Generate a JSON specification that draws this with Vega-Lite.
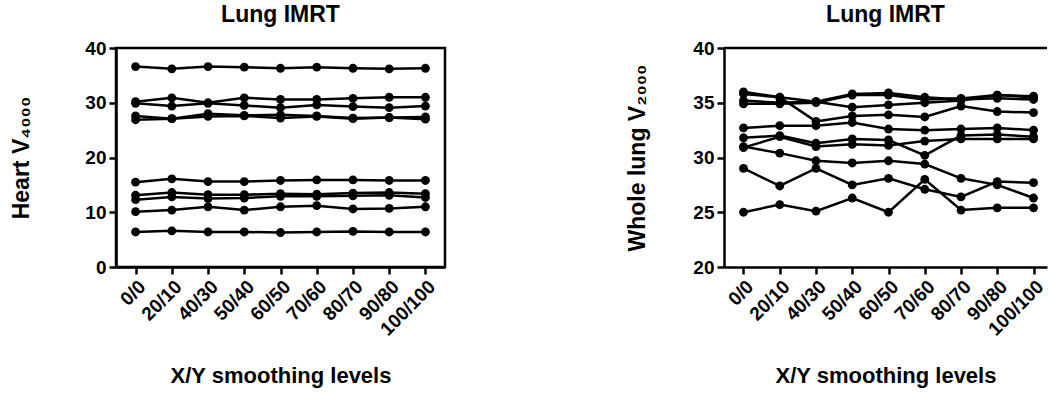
{
  "$schema": "https://vega.github.io/schema/vega-lite/v6.json",
  "background": "white",
  "padding": {"left": 9, "top": 2, "right": 0, "bottom": 0},
  "spacing": 179,
  "datasets": {
    "heart": [
      {"s":"L1","x":"0/0","v":36.6},{"s":"L1","x":"20/10","v":36.2},{"s":"L1","x":"40/30","v":36.6},{"s":"L1","x":"50/40","v":36.5},{"s":"L1","x":"60/50","v":36.3},{"s":"L1","x":"70/60","v":36.5},{"s":"L1","x":"80/70","v":36.3},{"s":"L1","x":"90/80","v":36.2},{"s":"L1","x":"100/100","v":36.3},
      {"s":"L2","x":"0/0","v":30.2},{"s":"L2","x":"20/10","v":30.9},{"s":"L2","x":"40/30","v":30.0},{"s":"L2","x":"50/40","v":30.9},{"s":"L2","x":"60/50","v":30.6},{"s":"L2","x":"70/60","v":30.6},{"s":"L2","x":"80/70","v":30.8},{"s":"L2","x":"90/80","v":31.0},{"s":"L2","x":"100/100","v":31.0},
      {"s":"L3","x":"0/0","v":29.9},{"s":"L3","x":"20/10","v":29.4},{"s":"L3","x":"40/30","v":29.9},{"s":"L3","x":"50/40","v":29.5},{"s":"L3","x":"60/50","v":29.1},{"s":"L3","x":"70/60","v":29.6},{"s":"L3","x":"80/70","v":29.3},{"s":"L3","x":"90/80","v":29.1},{"s":"L3","x":"100/100","v":29.4},
      {"s":"L4","x":"0/0","v":27.6},{"s":"L4","x":"20/10","v":27.1},{"s":"L4","x":"40/30","v":28.0},{"s":"L4","x":"50/40","v":27.7},{"s":"L4","x":"60/50","v":27.8},{"s":"L4","x":"70/60","v":27.6},{"s":"L4","x":"80/70","v":27.2},{"s":"L4","x":"90/80","v":27.3},{"s":"L4","x":"100/100","v":27.4},
      {"s":"L5","x":"0/0","v":26.9},{"s":"L5","x":"20/10","v":27.1},{"s":"L5","x":"40/30","v":27.5},{"s":"L5","x":"50/40","v":27.6},{"s":"L5","x":"60/50","v":27.2},{"s":"L5","x":"70/60","v":27.5},{"s":"L5","x":"80/70","v":27.1},{"s":"L5","x":"90/80","v":27.3},{"s":"L5","x":"100/100","v":27.0},
      {"s":"L6","x":"0/0","v":15.5},{"s":"L6","x":"20/10","v":16.1},{"s":"L6","x":"40/30","v":15.6},{"s":"L6","x":"50/40","v":15.6},{"s":"L6","x":"60/50","v":15.8},{"s":"L6","x":"70/60","v":15.9},{"s":"L6","x":"80/70","v":15.9},{"s":"L6","x":"90/80","v":15.8},{"s":"L6","x":"100/100","v":15.8},
      {"s":"L7","x":"0/0","v":13.1},{"s":"L7","x":"20/10","v":13.6},{"s":"L7","x":"40/30","v":13.2},{"s":"L7","x":"50/40","v":13.2},{"s":"L7","x":"60/50","v":13.4},{"s":"L7","x":"70/60","v":13.3},{"s":"L7","x":"80/70","v":13.5},{"s":"L7","x":"90/80","v":13.6},{"s":"L7","x":"100/100","v":13.4},
      {"s":"L8","x":"0/0","v":12.3},{"s":"L8","x":"20/10","v":12.8},{"s":"L8","x":"40/30","v":12.5},{"s":"L8","x":"50/40","v":12.6},{"s":"L8","x":"60/50","v":12.9},{"s":"L8","x":"70/60","v":12.9},{"s":"L8","x":"80/70","v":13.0},{"s":"L8","x":"90/80","v":13.1},{"s":"L8","x":"100/100","v":12.7},
      {"s":"L9","x":"0/0","v":10.1},{"s":"L9","x":"20/10","v":10.4},{"s":"L9","x":"40/30","v":11.0},{"s":"L9","x":"50/40","v":10.4},{"s":"L9","x":"60/50","v":11.0},{"s":"L9","x":"70/60","v":11.2},{"s":"L9","x":"80/70","v":10.6},{"s":"L9","x":"90/80","v":10.7},{"s":"L9","x":"100/100","v":11.0},
      {"s":"L10","x":"0/0","v":6.4},{"s":"L10","x":"20/10","v":6.6},{"s":"L10","x":"40/30","v":6.4},{"s":"L10","x":"50/40","v":6.4},{"s":"L10","x":"60/50","v":6.3},{"s":"L10","x":"70/60","v":6.4},{"s":"L10","x":"80/70","v":6.5},{"s":"L10","x":"90/80","v":6.4},{"s":"L10","x":"100/100","v":6.4}
    ],
    "lung": [
      {"s":"Ra","x":"0/0","v":36.0},{"s":"Ra","x":"20/10","v":35.5},{"s":"Ra","x":"40/30","v":35.1},{"s":"Ra","x":"50/40","v":34.6},{"s":"Ra","x":"60/50","v":34.8},{"s":"Ra","x":"70/60","v":35.0},{"s":"Ra","x":"80/70","v":35.2},{"s":"Ra","x":"90/80","v":35.7},{"s":"Ra","x":"100/100","v":35.5},
      {"s":"Rb","x":"0/0","v":35.8},{"s":"Rb","x":"20/10","v":35.5},{"s":"Rb","x":"40/30","v":33.3},{"s":"Rb","x":"50/40","v":33.8},{"s":"Rb","x":"60/50","v":33.9},{"s":"Rb","x":"70/60","v":33.7},{"s":"Rb","x":"80/70","v":34.7},{"s":"Rb","x":"90/80","v":34.2},{"s":"Rb","x":"100/100","v":34.1},
      {"s":"Rc","x":"0/0","v":35.2},{"s":"Rc","x":"20/10","v":35.0},{"s":"Rc","x":"40/30","v":35.1},{"s":"Rc","x":"50/40","v":35.8},{"s":"Rc","x":"60/50","v":35.9},{"s":"Rc","x":"70/60","v":35.5},{"s":"Rc","x":"80/70","v":35.3},{"s":"Rc","x":"90/80","v":35.4},{"s":"Rc","x":"100/100","v":35.3},
      {"s":"Rd","x":"0/0","v":34.9},{"s":"Rd","x":"20/10","v":34.9},{"s":"Rd","x":"40/30","v":35.0},{"s":"Rd","x":"50/40","v":35.7},{"s":"Rd","x":"60/50","v":35.7},{"s":"Rd","x":"70/60","v":35.3},{"s":"Rd","x":"80/70","v":35.4},{"s":"Rd","x":"90/80","v":35.7},{"s":"Rd","x":"100/100","v":35.6},
      {"s":"Re","x":"0/0","v":32.7},{"s":"Re","x":"20/10","v":32.9},{"s":"Re","x":"40/30","v":32.9},{"s":"Re","x":"50/40","v":33.2},{"s":"Re","x":"60/50","v":32.6},{"s":"Re","x":"70/60","v":32.5},{"s":"Re","x":"80/70","v":32.6},{"s":"Re","x":"90/80","v":32.7},{"s":"Re","x":"100/100","v":32.5},
      {"s":"Rf","x":"0/0","v":31.8},{"s":"Rf","x":"20/10","v":32.0},{"s":"Rf","x":"40/30","v":31.3},{"s":"Rf","x":"50/40","v":31.7},{"s":"Rf","x":"60/50","v":31.6},{"s":"Rf","x":"70/60","v":30.2},{"s":"Rf","x":"80/70","v":32.0},{"s":"Rf","x":"90/80","v":32.1},{"s":"Rf","x":"100/100","v":31.9},
      {"s":"Rg","x":"0/0","v":30.9},{"s":"Rg","x":"20/10","v":31.9},{"s":"Rg","x":"40/30","v":31.0},{"s":"Rg","x":"50/40","v":31.2},{"s":"Rg","x":"60/50","v":31.1},{"s":"Rg","x":"70/60","v":31.5},{"s":"Rg","x":"80/70","v":31.7},{"s":"Rg","x":"90/80","v":31.7},{"s":"Rg","x":"100/100","v":31.7},
      {"s":"Rh","x":"0/0","v":31.0},{"s":"Rh","x":"20/10","v":30.4},{"s":"Rh","x":"40/30","v":29.7},{"s":"Rh","x":"50/40","v":29.5},{"s":"Rh","x":"60/50","v":29.7},{"s":"Rh","x":"70/60","v":29.4},{"s":"Rh","x":"80/70","v":28.1},{"s":"Rh","x":"90/80","v":27.5},{"s":"Rh","x":"100/100","v":26.3},
      {"s":"Ri","x":"0/0","v":29.0},{"s":"Ri","x":"20/10","v":27.4},{"s":"Ri","x":"40/30","v":29.0},{"s":"Ri","x":"50/40","v":27.5},{"s":"Ri","x":"60/50","v":28.1},{"s":"Ri","x":"70/60","v":27.1},{"s":"Ri","x":"80/70","v":26.4},{"s":"Ri","x":"90/80","v":27.8},{"s":"Ri","x":"100/100","v":27.7},
      {"s":"Rj","x":"0/0","v":25.0},{"s":"Rj","x":"20/10","v":25.7},{"s":"Rj","x":"40/30","v":25.1},{"s":"Rj","x":"50/40","v":26.3},{"s":"Rj","x":"60/50","v":25.0},{"s":"Rj","x":"70/60","v":28.0},{"s":"Rj","x":"80/70","v":25.2},{"s":"Rj","x":"90/80","v":25.4},{"s":"Rj","x":"100/100","v":25.4}
    ]
  },
  "hconcat": [
    {
      "width": 329,
      "height": 219,
      "title": "Lung IMRT",
      "view": {"stroke": "black", "strokeWidth": 2.5},
      "data": {"name": "heart"},
      "mark": {"type": "line", "color": "black", "strokeWidth": 2.5, "point": {"filled": true, "size": 78, "color": "black", "opacity": 1}},
      "encoding": {
        "x": {"field": "x", "type": "ordinal", "title": "X/Y smoothing levels",
              "scale": {"type": "point", "padding": 0.54, "domain": ["0/0","20/10","40/30","50/40","60/50","70/60","80/70","90/80","100/100"]},
              "axis": {"labelAngle": -45, "titlePadding": 27, "titleFontSize": 22}},
        "y": {"field": "v", "type": "quantitative", "title": "Heart V₄₀₀₀",
              "scale": {"domain": [0, 40], "nice": false, "zero": false},
              "axis": {"values": [0, 10, 20, 30, 40], "titlePadding": 51}},
        "detail": {"field": "s"}
      }
    },
    {
      "width": 323,
      "height": 219,
      "title": "Lung IMRT",
      "layer": [
        {
          "data": {"name": "lung"},
          "mark": {"type": "line", "color": "black", "strokeWidth": 2.5, "point": {"filled": true, "size": 78, "color": "black", "opacity": 1}},
          "encoding": {
            "x": {"field": "x", "type": "ordinal", "title": "X/Y smoothing levels",
                  "scale": {"type": "point", "padding": 0.455, "align": 0.591, "domain": ["0/0","20/10","40/30","50/40","60/50","70/60","80/70","90/80","100/100"]},
                  "axis": {"labelAngle": -45, "titlePadding": 27, "titleFontSize": 22}},
            "y": {"field": "v", "type": "quantitative", "title": "Whole lung V₂₀₀₀",
                  "scale": {"domain": [20, 40], "nice": false, "zero": false},
                  "axis": {"values": [20, 25, 30, 35, 40], "titlePadding": 43}},
            "detail": {"field": "s"}
          }
        },
        {
          "data": {"values": [{}]},
          "mark": {"type": "rule", "color": "black", "strokeWidth": 2.5},
          "encoding": {"y": {"datum": 40}}
        }
      ]
    }
  ],
  "config": {
    "view": {"stroke": null},
    "font": "Liberation Sans",
    "title": {"font": "Liberation Sans", "fontSize": 23, "fontWeight": "bold", "color": "black", "offset": 12, "anchor": "middle"},
    "axis": {
      "grid": false,
      "domainColor": "black", "domainWidth": 2.5,
      "tickColor": "black", "tickWidth": 2.5, "tickSize": 7,
      "labelFont": "Liberation Sans", "labelFontSize": 19, "labelFontWeight": "bold", "labelColor": "black", "labelPadding": 3,
      "titleFont": "Liberation Sans", "titleFontSize": 23, "titleFontWeight": "bold", "titleColor": "black"
    }
  }
}
